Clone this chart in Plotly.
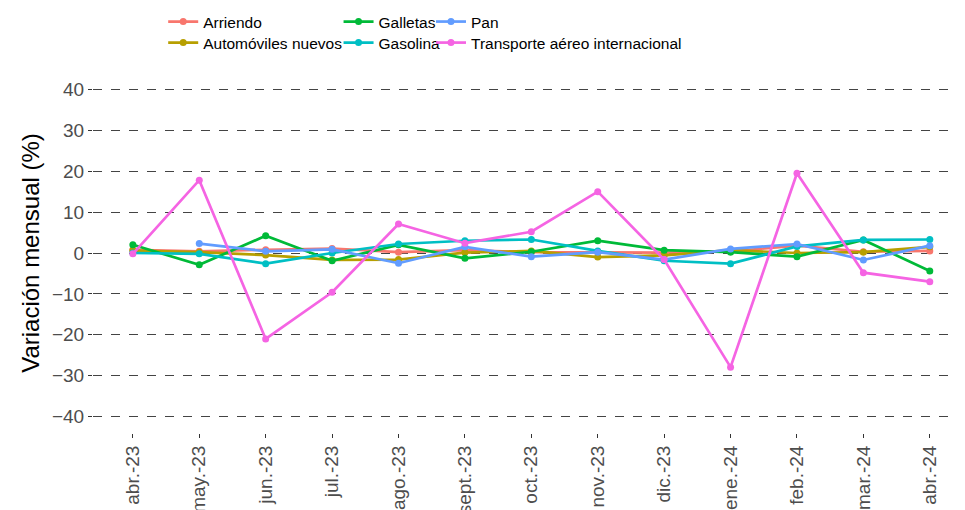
import plotly.graph_objects as go

meses = ["abr.-23", "may.-23", "jun.-23", "jul.-23", "ago.-23", "sept.-23", "oct.-23",
         "nov.-23", "dic.-23", "ene.-24", "feb.-24", "mar.-24", "abr.-24"]

arriendo = [0.8, 0.4, 0.8, 1.1, 0.2, 0.7, 0.2, 0.1, 0.1, 0.4, 1.8, 0.3, 0.5]
automoviles = [0.6, 0.2, -0.5, -1.7, -1.6, 0.1, 0.5, -1.0, -0.6, 0.7, 0.0, 0.2, 1.5]
galletas = [2.0, -2.9, 4.2, -1.9, 2.0, -1.3, 0.3, 3.0, 0.7, 0.2, -0.9, 3.2, -4.4]
gasolina = [0.0, -0.2, -2.6, 0.0, 2.2, 3.0, 3.3, 0.5, -1.9, -2.6, 1.6, 3.2, 3.3]
pan = [None, 2.3, 0.4, 0.9, -2.5, 1.5, -0.9, 0.2, -1.6, 1.0, 2.2, -1.7, 1.8]
transporte = [-0.2, 17.8, -21.0, -9.6, 7.1, 2.4, 5.2, 15.0, -1.6, -27.9, 19.5, -4.8, -7.0]

series = [
    ("Arriendo", arriendo, "#F8766D"),
    ("Automóviles nuevos", automoviles, "#B79F00"),
    ("Galletas", galletas, "#00BA38"),
    ("Gasolina", gasolina, "#00BFC4"),
    ("Pan", pan, "#619CFF"),
    ("Transporte aéreo internacional", transporte, "#F564E3"),
]

# legend slot positions (paper coords): one legend per entry, column-major grid
legend_pos = [(0.0805, 1.1417), (0.0805, 1.0833),
              (0.2816, 1.1417), (0.2816, 1.0833),
              (0.3876, 1.1417), (0.3876, 1.0833)]
legend_ids = ["legend", "legend2", "legend3", "legend4", "legend5", "legend6"]

FONT = "Liberation Sans, Arial, sans-serif"

fig = go.Figure()
for (name, vals, color), lid in zip(series, legend_ids):
    fig.add_trace(go.Scatter(
        x=meses, y=vals, name=name, mode="lines+markers",
        line=dict(color=color, width=2.7),
        marker=dict(color=color, size=7),
        legend=lid, connectgaps=False,
    ))

legend_layout = {}
for lid, (lx, ly) in zip(legend_ids, legend_pos):
    legend_layout[lid] = dict(
        orientation="v", xanchor="left", yanchor="middle", x=lx, y=ly,
        font=dict(family=FONT, size=15.5, color="black"),
        bgcolor="rgba(0,0,0,0)", itemwidth=30,
    )

# margins compensate for the page's default 8px body offset
fig.update_layout(
    width=965, height=510,
    margin=dict(l=85, r=8, t=65, b=85, autoexpand=False),
    paper_bgcolor="white", plot_bgcolor="white",
    font=dict(family=FONT),
    showlegend=True,
    **legend_layout,
)

fig.update_xaxes(
    type="category", range=[-0.6, 12.53], automargin=False,
    showgrid=False, zeroline=False, showline=False,
    ticks="outside", ticklen=4, tickcolor="#333333",
    tickangle=-90,
    tickfont=dict(family=FONT, size=19, color="#4D4D4D"),
)
fig.update_yaxes(
    range=[-44, 44], tickvals=[-40, -30, -20, -10, 0, 10, 20, 30, 40], automargin=False,
    showgrid=True, gridcolor="#444444", griddash="dash", gridwidth=1,
    zeroline=False, showline=False,
    ticks="outside", ticklen=4, tickcolor="#333333",
    tickfont=dict(family=FONT, size=19, color="#4D4D4D"),
    title=dict(text="Variación mensual (%)", font=dict(family=FONT, size=24, color="black"), standoff=5),
)

fig.write_html("out.html")
